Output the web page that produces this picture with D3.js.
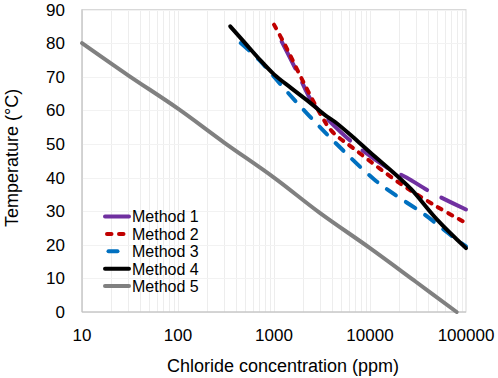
<!DOCTYPE html>
<html>
<head>
<meta charset="utf-8">
<script src="https://cdn.jsdelivr.net/npm/d3@7"></script>
<style>
  body { margin: 0; background: #fff; }
  text { font-family: "Liberation Sans", Arial, sans-serif; fill: #000; }
</style>
</head>
<body>
<svg id="chart" width="498" height="378"></svg>
<script>
// data: [chloride ppm, temperature °C]
var method1 = [[1200, 80.5], [1700, 72], [2550, 62], [3100, 59.3], [6700, 50.2], [16000, 42.5], [24000, 40], [44000, 35.5], [100000, 30.5]];
var method2 = [[1000, 85.5], [1300, 79.5], [2000, 68.7], [3100, 58.5], [4000, 53.8], [7000, 48.3], [20000, 38.5], [50000, 31.3], [100000, 26.5]];
var method3 = [[450, 80], [700, 75], [1000, 70], [1400, 65.2], [2300, 58.5], [4300, 50.5], [11000, 39.5], [18000, 35], [37000, 29], [65000, 23.5], [100000, 19.5]];
var method4 = [[350, 85], [500, 80], [690, 75.5], [1000, 70.7], [1500, 66.7], [2300, 62.6], [3400, 58.6], [4300, 56.6], [6500, 52.3], [10000, 47.5], [20000, 40], [27000, 36.5], [50000, 27.5], [100000, 19]];
var method5 = [[10, 80], [30, 70.5], [100, 60.5], [300, 50.5], [1000, 40], [3000, 29.5], [10000, 19], [30000, 9], [80000, 0]];

var seriesNames = ["Method 1", "Method 2", "Method 3", "Method 4", "Method 5"];
var xTicks = [10, 100, 1000, 10000, 100000];
var yTicks = [0, 10, 20, 30, 40, 50, 60, 70, 80, 90];

var series = [
  {name: seriesNames[0], values: method1, color: "#7030a0", dash: "30 16"},
  {name: seriesNames[1], values: method2, color: "#c00000", dash: "4.5 7.5"},
  {name: seriesNames[2], values: method3, color: "#0070c0", dash: "11 12"},
  {name: seriesNames[3], values: method4, color: "#000000", dash: null},
  {name: seriesNames[4], values: method5, color: "#808080", dash: null}
];

var svg = d3.select("#chart");
var pLeft = 82, pRight = 466, pTop = 9.5, pBottom = 312;

var x = d3.scaleLog().domain([10, 100000]).range([pLeft, pRight]);
var y = d3.scaleLinear().domain([0, 90]).range([pBottom, pTop]);

// vertical grid lines (every 1..9 of each decade)
var minor = [];
for (var d = 10; d < 100000; d *= 10) {
  for (var k = 1; k <= 9; k++) minor.push(d * k);
}
svg.append("g").selectAll("line").data(minor).enter().append("line")
    .attr("x1", function(v) { return Math.round(x(v)) + 0.5; })
    .attr("x2", function(v) { return Math.round(x(v)) + 0.5; })
    .attr("y1", pTop).attr("y2", pBottom)
    .attr("stroke", "#ededed").attr("stroke-width", 1);

// horizontal grid lines
svg.append("g").selectAll("line").data(yTicks).enter().append("line")
    .attr("x1", pLeft).attr("x2", pRight)
    .attr("y1", function(v) { return Math.round(y(v)) + 0.5; })
    .attr("y2", function(v) { return Math.round(y(v)) + 0.5; })
    .attr("stroke", "#f2f2f2").attr("stroke-width", 1);

// plot border
svg.append("rect")
    .attr("x", pLeft).attr("y", pTop)
    .attr("width", pRight - pLeft).attr("height", pBottom - pTop)
    .attr("fill", "none").attr("stroke", "#d9d9d9");

// axis lines
svg.append("line").attr("x1", pLeft).attr("x2", pLeft).attr("y1", pTop).attr("y2", pBottom)
    .attr("stroke", "#bfbfbf");
svg.append("line").attr("x1", pLeft).attr("x2", pRight).attr("y1", pBottom).attr("y2", pBottom)
    .attr("stroke", "#bfbfbf");

// tick labels
svg.append("g").selectAll("text").data(yTicks).enter().append("text")
    .attr("x", 65)
    .attr("y", function(v) { return y(v) + 6; })
    .attr("text-anchor", "end")
    .attr("font-size", 17)
    .text(function(v) { return v; });

svg.append("g").selectAll("text").data(xTicks).enter().append("text")
    .attr("x", function(v) { return x(v); })
    .attr("y", 341)
    .attr("text-anchor", "middle")
    .attr("font-size", 17)
    .text(function(v) { return v; });

// axis titles
svg.append("text")
    .attr("x", 283).attr("y", 372)
    .attr("text-anchor", "middle")
    .attr("font-size", 18)
    .text("Chloride concentration (ppm)");

svg.append("text")
    .attr("transform", "translate(18,158) rotate(-90)")
    .attr("text-anchor", "middle")
    .attr("font-size", 18)
    .text("Temperature (°C)");

// lines
var line = d3.line()
    .x(function(d) { return x(d[0]); })
    .y(function(d) { return y(d[1]); })
    .curve(d3.curveCatmullRom.alpha(0.5));

svg.append("g").selectAll("path").data(series).enter().append("path")
    .attr("d", function(s) { return line(s.values); })
    .attr("fill", "none")
    .attr("stroke", function(s) { return s.color; })
    .attr("stroke-width", 4)
    .attr("stroke-linecap", "round")
    .attr("stroke-dasharray", function(s) { return s.dash; });

// legend
var lg = svg.append("g").attr("transform", "translate(105,216.5)");
var row = lg.selectAll("g").data(series).enter().append("g")
    .attr("transform", function(s, i) { return "translate(0," + (i * 17.4) + ")"; });
row.append("line")
    .attr("x1", function(s, i) { return i == 2 ? 3.5 : 0; })
    .attr("x2", function(s, i) { return i == 2 ? 12.5 : 24; })
    .attr("y1", 0).attr("y2", 0)
    .attr("stroke", function(s) { return s.color; })
    .attr("stroke-width", 4)
    .attr("stroke-linecap", "round")
    .attr("stroke-dasharray", function(s, i) { return i == 1 ? s.dash : null; })
    .attr("stroke-dashoffset", function(s, i) { return i == 1 ? -2 : null; });
row.append("text")
    .attr("x", 27).attr("y", 5.8)
    .attr("font-size", 16)
    .text(function(s) { return s.name; });
</script>
</body>
</html>
